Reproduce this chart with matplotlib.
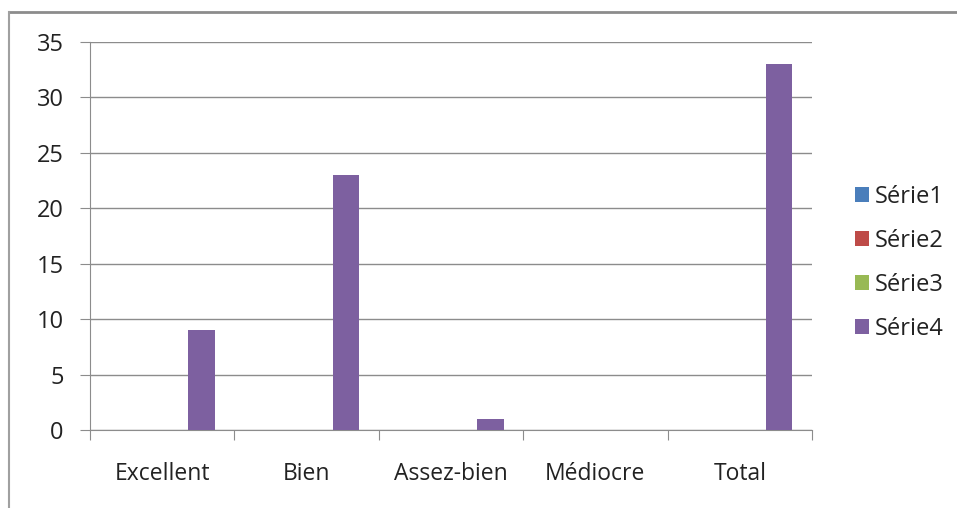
import numpy as np
import matplotlib
matplotlib.use("Agg")
from matplotlib import pyplot as plt
from matplotlib.lines import Line2D

categories = ["Excellent", "Bien", "Assez-bien", "Médiocre", "Total"]
series_names = ["Série1", "Série2", "Série3", "Série4"]
serie1 = [0, 0, 0, 0, 0]
serie2 = [0, 0, 0, 0, 0]
serie3 = [0, 0, 0, 0, 0]
serie4 = [9, 23, 1, 0, 33]
colors = ["#4a7ebb", "#be4b48", "#98b954", "#7d60a0"]

plt.rcParams['font.family'] = ['Open Sans', 'DejaVu Sans']

fig = plt.figure(figsize=(9.57, 5.08), dpi=100)
ax = fig.add_axes([90 / 957, 1 - 430 / 508, 722 / 957, 388 / 508])

# figure frame (top and left edges only visible)
fig.add_artist(Line2D([9 / 957, 1], [1 - 12 / 508] * 2, color="#8c8c8c", lw=2))
fig.add_artist(Line2D([9 / 957] * 2, [0, 1 - 12 / 508], color="#a0a0a0", lw=1.5))

x = np.arange(len(categories))
w = 1 / 5.5
for i, (vals, c, name) in enumerate(zip([serie1, serie2, serie3, serie4], colors, series_names)):
    ax.bar(x + (i - 1.5) * w, vals, width=w, color=c, label=name, zorder=3)

ax.set_xlim(-0.5, len(categories) - 0.5)
ax.set_ylim(0, 35)
ax.set_yticks(range(0, 36, 5))
ax.yaxis.grid(True, color="#8c8c8c", lw=1)
ax.set_axisbelow(True)

ax.set_xticks(np.arange(-0.5, len(categories)))
ax.set_xticklabels([])
ax.set_xticks(x, minor=True)
ax.set_xticklabels(categories, minor=True)
ax.tick_params(axis="x", which="major", length=7, color="#8c8c8c", direction="out")
ax.tick_params(axis="x", which="minor", length=0, pad=23, labelsize=16.5, labelcolor="#222222")
ax.tick_params(axis="y", length=7, color="#8c8c8c", labelsize=17, pad=12, labelcolor="#222222")

for s in ["top", "right"]:
    ax.spines[s].set_visible(False)
for s in ["left", "bottom"]:
    ax.spines[s].set_color("#8c8c8c")

ax.legend(loc="center left", bbox_to_anchor=(1.04, 0.43), frameon=False, fontsize=17,
          handlelength=0.6, handleheight=0.6, handletextpad=0.25, labelspacing=0.85,
          borderaxespad=0.2, labelcolor="#222222")

fig.savefig("out.png", dpi=100, facecolor="white")
